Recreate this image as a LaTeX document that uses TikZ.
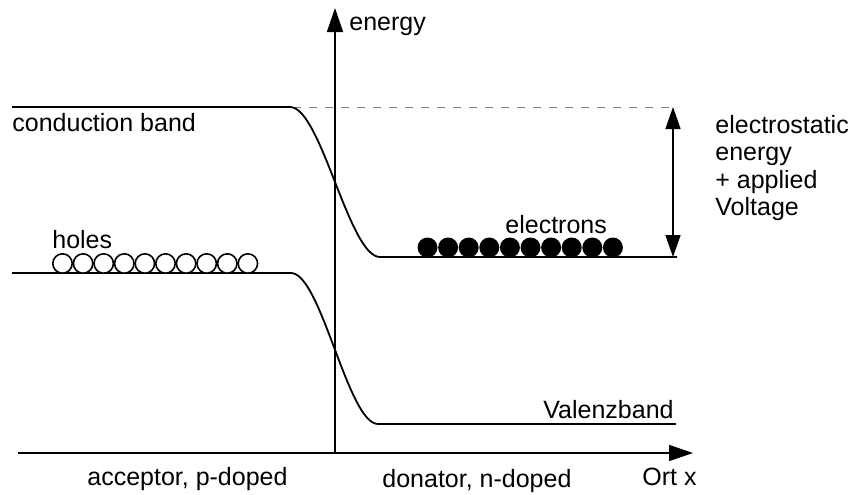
\documentclass[tikz,border=0pt]{standalone}
\usepackage{fontspec}
\setmainfont{Liberation Sans}
\usetikzlibrary{arrows.meta}
\begin{document}
\begin{tikzpicture}[x=0.5pt,y=-0.5pt,
  lbl/.style={inner sep=0pt,font=\fontsize{12.5}{13.65}\selectfont},
  band/.style={line width=0.9pt},
  axis/.style={line width=0.8pt,-{Triangle[length=12pt,width=8pt]}},
  hole/.style={draw=black,fill=white,line width=0.8pt},
  electron/.style={fill=black},
  dbl/.style={line width=0.8pt,{Triangle[length=11pt,width=7.5pt]}-{Triangle[length=11pt,width=7.5pt]}}]
\useasboundingbox (0,0) rectangle (852,494);
% axes
\coordinate (xs) at (18,453);
\coordinate (xe) at (693,453);
\coordinate (ys) at (335,453);
\coordinate (ye) at (335,8);
\draw[axis] (xs) -- (xe);
\draw[axis] (ys) -- (ye);
% dashed reference
\coordinate (ds) at (293,107);
\coordinate (de) at (677,107);
\draw[gray,line width=0.5pt,dash pattern=on 4pt off 4pt] (ds) -- (de);
% conduction band
\coordinate (c1) at (12,107);
\coordinate (c2) at (290,107);
\coordinate (c3) at (380,257);
\coordinate (c4) at (677,257);
\draw[band] (c1) -- (c2) .. controls (321,107) and (349,257) .. (c3) -- (c4);
% valence band
\coordinate (v1) at (12,273);
\coordinate (v2) at (291,273);
\coordinate (v3) at (378,424);
\coordinate (v4) at (676,424);
\draw[band] (v1) -- (v2) .. controls (321,273) and (348,424) .. (v3) -- (v4);
% energy difference arrow
\coordinate (at) at (673,107);
\coordinate (ab) at (673,257);
\draw[dbl] (at) -- (ab);
% holes
\foreach \i in {0,...,9} {
  \draw[hole] (62.5+20.6*\i,263.5) circle[radius=4.85pt];
}
% electrons
\foreach \i in {0,...,9} {
  \fill[electron] (427.5+20.6*\i,247.5) circle[radius=5pt];
}
% labels
\node[lbl,anchor=base west] (energy) at (349,30) {energy};
\node[lbl,anchor=base west] (cb) at (12,131) {conduction band};
\node[lbl,anchor=base west] (holes) at (52,248) {holes};
\node[lbl,anchor=base west] (el) at (505,233) {electrons};
\node[lbl,anchor=base east] (vb) at (674,418) {Valenzband};
\node[lbl,anchor=base west] (acc) at (87,485) {acceptor, p-doped};
\node[lbl,anchor=base west] (don) at (382,487) {donator, n-doped};
\node[lbl,anchor=base west] (ort) at (642,485) {Ort x};
\node[lbl,anchor=north west,align=left] (es) at (715,115) {electrostatic\\energy\\+ applied\\Voltage};
\end{tikzpicture}
\end{document}
